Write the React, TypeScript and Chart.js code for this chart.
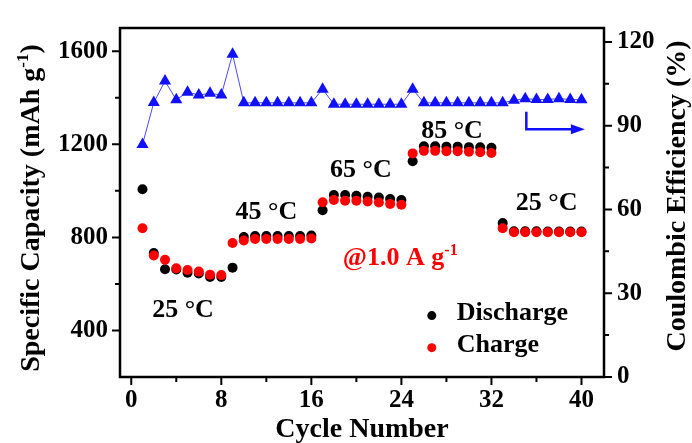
import React, { useEffect, useRef } from 'react';
import { Chart, registerables } from 'chart.js';

Chart.register(...registerables);

const FONT = '"Liberation Serif", "Times New Roman", serif';

const cycles = [1, 2, 3, 4, 5, 6, 7, 8, 9, 10, 11, 12, 13, 14, 15, 16, 17, 18, 19, 20, 21, 22, 23, 24, 25, 26, 27, 28, 29, 30, 31, 32, 33, 34, 35, 36, 37, 38, 39, 40];
const discharge = [1007, 733, 663, 662, 648, 645, 630, 630, 670, 802, 806, 806, 806, 806, 806, 808, 917, 982, 982, 979, 975, 971, 965, 961, 1127, 1192, 1192, 1190, 1190, 1188, 1187, 1185, 862, 826, 826, 826, 825, 825, 825, 825];
const charge = [839, 722, 704, 667, 660, 653, 640, 638, 776, 787, 793, 793, 793, 793, 793, 795, 951, 961, 958, 958, 954, 950, 944, 940, 1161, 1172, 1172, 1170, 1170, 1168, 1166, 1163, 839, 822, 822, 822, 822, 822, 822, 822];
const coulombicEfficiency = [83.3, 98.3, 106, 99.3, 102, 101, 101.6, 101, 115.6, 98.2, 98.2, 98.2, 98.2, 98.2, 98.2, 98.2, 103.1, 97.7, 97.7, 97.7, 97.7, 97.7, 97.7, 97.7, 103.1, 98.2, 98.2, 98.2, 98.2, 98.2, 98.2, 98.2, 98.2, 99.1, 99.7, 99.4, 99.4, 99.7, 99.4, 99.3];

const xTickValues = [0, 8, 16, 24, 32, 40];
const xMinorTickValues = [4, 12, 20, 28, 36];
const leftTickValues = [400, 800, 1200, 1600];
const leftMinorTickValues = [600, 1000, 1400];
const rightTickValues = [0, 30, 60, 90, 120];
const rightMinorTickValues = [15, 45, 75, 105];

const xTitle = 'Cycle Number';
const leftTitle = ['Specific Capacity (mAh g', '-1', ')'];
const rightTitle = 'Coulombic Efficiency (%)';

// temperature labels, placed in data units (cycle, capacity)
const tempLabels = [
  { text: '25 °C', x: 4.6, y: 486 },
  { text: '45 °C', x: 12.0, y: 910 },
  { text: '65 °C', x: 20.4, y: 1087 },
  { text: '85 °C', x: 28.5, y: 1258 },
  { text: '25 °C', x: 36.9, y: 946 },
];
const rateLabel = { text: '@1.0 A g', sup: '-1', x: 18.8, y: 718 };
const legendItems = [
  { text: 'Discharge', color: '#000000', x: 26.7, y: 464 },
  { text: 'Charge', color: '#ff0000', x: 26.7, y: 326 },
];
// arrow pointing to right axis (cycle, CE %)
const arrowPath = { x0: 35.1, yTop: 95, yBottom: 88.7, x1: 40.3 };

const BLUE = '#1010ff';

function drawRich(ctx: CanvasRenderingContext2D, parts: { t: string; size: number; rise?: number }[], x: number, y: number, align: 'left' | 'center') {
  let total = 0;
  const widths = parts.map((p) => {
    ctx.font = `bold ${p.size}px ${FONT}`;
    const w = ctx.measureText(p.t).width;
    total += w;
    return w;
  });
  let cx = align === 'center' ? x - total / 2 : x;
  ctx.textAlign = 'left';
  ctx.textBaseline = 'alphabetic';
  parts.forEach((p, i) => {
    ctx.font = `bold ${p.size}px ${FONT}`;
    ctx.fillText(p.t, cx, y - (p.rise || 0));
    cx += widths[i];
  });
}

const decorPlugin = {
  id: 'decor',
  afterDraw(chart: any) {
    const { ctx, chartArea: a, scales } = chart;
    const sx = scales.x;
    const sy = scales.y;
    const sy2 = scales.y2;
    ctx.save();
    // frame
    ctx.strokeStyle = '#000';
    ctx.lineWidth = 2.5;
    ctx.strokeRect(a.left, a.top, a.right - a.left, a.bottom - a.top);
    // ticks
    ctx.lineWidth = 2;
    ctx.beginPath();
    const major = 8;
    const minor = 5;
    xTickValues.forEach((v) => { const p = sx.getPixelForValue(v); ctx.moveTo(p, a.bottom); ctx.lineTo(p, a.bottom + major); });
    xMinorTickValues.forEach((v) => { const p = sx.getPixelForValue(v); ctx.moveTo(p, a.bottom); ctx.lineTo(p, a.bottom + minor); });
    leftTickValues.forEach((v) => { const p = sy.getPixelForValue(v); ctx.moveTo(a.left, p); ctx.lineTo(a.left - major, p); });
    leftMinorTickValues.forEach((v) => { const p = sy.getPixelForValue(v); ctx.moveTo(a.left, p); ctx.lineTo(a.left - minor, p); });
    rightTickValues.forEach((v) => { const p = sy2.getPixelForValue(v); ctx.moveTo(a.right, p); ctx.lineTo(a.right + major, p); });
    rightMinorTickValues.forEach((v) => { const p = sy2.getPixelForValue(v); ctx.moveTo(a.right, p); ctx.lineTo(a.right + minor, p); });
    ctx.stroke();

    // axis titles
    ctx.fillStyle = '#000';
    ctx.font = `bold 28px ${FONT}`;
    ctx.textAlign = 'center';
    ctx.textBaseline = 'middle';
    ctx.fillText(xTitle, (a.left + a.right) / 2, 430);

    ctx.save();
    ctx.translate(29, 208);
    ctx.rotate(-Math.PI / 2);
    drawRich(ctx, [{ t: leftTitle[0], size: 28 }, { t: leftTitle[1], size: 17, rise: 11 }, { t: leftTitle[2], size: 28 }], 0, 10, 'center');
    ctx.restore();

    ctx.save();
    ctx.translate(678, 196);
    ctx.rotate(-Math.PI / 2);
    ctx.font = `bold 28px ${FONT}`;
    ctx.textAlign = 'center';
    ctx.textBaseline = 'middle';
    ctx.fillText(rightTitle, 0, 0);
    ctx.restore();

    // temperature labels
    ctx.font = `bold 26px ${FONT}`;
    ctx.textAlign = 'center';
    ctx.textBaseline = 'middle';
    ctx.fillStyle = '#000';
    tempLabels.forEach((l) => ctx.fillText(l.text, sx.getPixelForValue(l.x), sy.getPixelForValue(l.y)));

    // rate label
    ctx.fillStyle = '#ff0000';
    drawRich(ctx, [{ t: rateLabel.text, size: 26 }, { t: rateLabel.sup, size: 16, rise: 10 }], sx.getPixelForValue(rateLabel.x), sy.getPixelForValue(rateLabel.y) + 9, 'left');

    // legend
    legendItems.forEach((l) => {
      const px = sx.getPixelForValue(l.x);
      const py = sy.getPixelForValue(l.y);
      ctx.fillStyle = l.color;
      ctx.beginPath();
      ctx.arc(px, py, 4.5, 0, Math.PI * 2);
      ctx.fill();
      ctx.fillStyle = '#000';
      ctx.font = `bold 26px ${FONT}`;
      ctx.textAlign = 'left';
      ctx.textBaseline = 'middle';
      ctx.fillText(l.text, px + 25, py - 2);
    });

    // arrow
    const ax0 = sx.getPixelForValue(arrowPath.x0);
    const ax1 = sx.getPixelForValue(arrowPath.x1);
    const ayT = sy2.getPixelForValue(arrowPath.yTop);
    const ayB = sy2.getPixelForValue(arrowPath.yBottom);
    ctx.strokeStyle = BLUE;
    ctx.fillStyle = BLUE;
    ctx.lineWidth = 2.5;
    ctx.beginPath();
    ctx.moveTo(ax0, ayT);
    ctx.lineTo(ax0, ayB);
    ctx.lineTo(ax1 - 10, ayB);
    ctx.stroke();
    ctx.beginPath();
    ctx.moveTo(ax1, ayB);
    ctx.lineTo(ax1 - 14, ayB - 5);
    ctx.lineTo(ax1 - 14, ayB + 5);
    ctx.closePath();
    ctx.fill();
    ctx.restore();
  },
};

export default function App() {
  const ref = useRef<HTMLCanvasElement | null>(null);
  useEffect(() => {
    if (!ref.current) return;
    const tickFont = { family: FONT, size: 25, weight: 'bold' as const };
    const plain = (v: any) => String(v);
    const chart = new Chart(ref.current, {
      type: 'line',
      data: {
        datasets: [
          {
            label: 'Charge',
            data: cycles.map((c, i) => ({ x: c, y: charge[i] })),
            showLine: false,
            pointRadius: 5,
            pointBackgroundColor: '#ff0000',
            pointBorderWidth: 0,
            borderColor: '#ff0000',
            yAxisID: 'y',
            order: 0,
          },
          {
            label: 'Discharge',
            data: cycles.map((c, i) => ({ x: c, y: discharge[i] })),
            showLine: false,
            pointRadius: 5,
            pointBackgroundColor: '#000000',
            pointBorderWidth: 0,
            borderColor: '#000000',
            yAxisID: 'y',
            order: 1,
          },
          {
            label: 'Coulombic Efficiency',
            data: cycles.map((c, i) => ({ x: c, y: coulombicEfficiency[i] })),
            showLine: true,
            borderColor: 'rgba(40,40,255,0.85)',
            borderWidth: 1,
            pointStyle: 'triangle',
            pointRadius: 7,
            pointBackgroundColor: BLUE,
            pointBorderColor: BLUE,
            pointBorderWidth: 0,
            yAxisID: 'y2',
            order: 2,
          },
        ],
      },
      options: {
        animation: false,
        responsive: false,
        devicePixelRatio: 1,
        layout: { padding: { top: 16, left: 0, right: 0, bottom: 0 } },
        plugins: { legend: { display: false }, tooltip: { enabled: false } },
        scales: {
          x: {
            type: 'linear',
            min: -1,
            max: 42,
            grid: { display: false, drawTicks: false },
            border: { display: false },
            ticks: { font: tickFont, color: '#000', padding: 9, maxRotation: 0, autoSkip: false, callback: plain },
            afterBuildTicks: (s: any) => { s.ticks = xTickValues.map((v) => ({ value: v })); },
            afterFit: (s: any) => { s.height = 66; },
          },
          y: {
            type: 'linear',
            position: 'left',
            min: 200,
            max: 1700,
            grid: { display: false, drawTicks: false },
            border: { display: false },
            ticks: { font: tickFont, color: '#000', padding: 12, autoSkip: false, callback: plain },
            afterBuildTicks: (s: any) => { s.ticks = leftTickValues.map((v) => ({ value: v })); },
            afterFit: (s: any) => { s.width = 120; },
          },
          y2: {
            type: 'linear',
            position: 'right',
            min: 0,
            max: 125,
            grid: { display: false, drawTicks: false },
            border: { display: false },
            ticks: { font: tickFont, color: '#000', padding: 13, autoSkip: false, callback: plain },
            afterBuildTicks: (s: any) => { s.ticks = rightTickValues.map((v) => ({ value: v })); },
            afterFit: (s: any) => { s.width = 88; },
          },
        },
      },
      plugins: [decorPlugin],
    });
    return () => chart.destroy();
  }, []);
  return (
    <div style={{ position: 'absolute', left: 0, top: 0, width: 692, height: 443, background: '#fff' }}>
      <canvas ref={ref} width={692} height={443} style={{ display: 'block', width: 692, height: 443 }} />
    </div>
  );
}
